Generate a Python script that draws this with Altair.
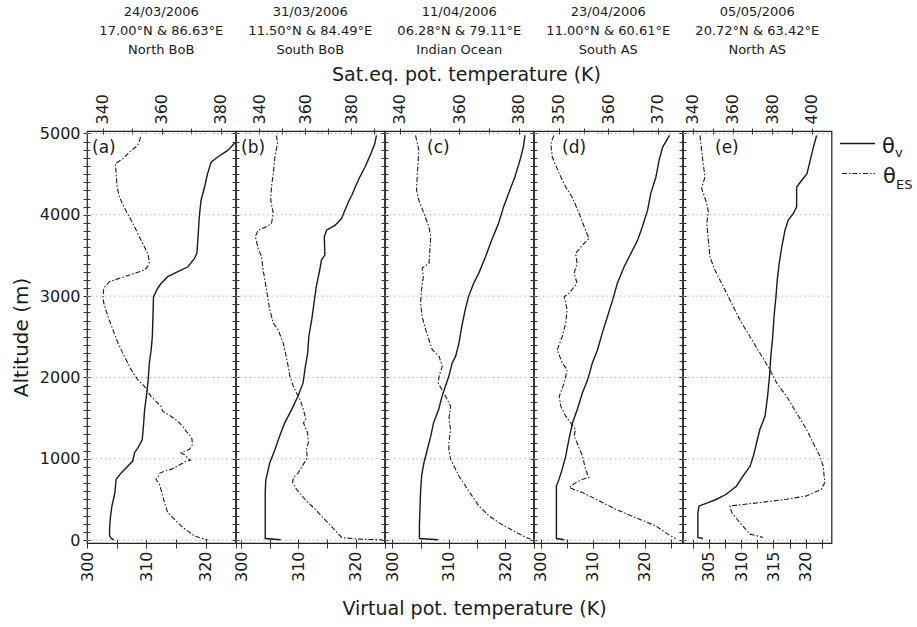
import altair as alt
import pandas as pd

FONT = "DejaVu Sans"
INK = "#1a1a1a"

W = 148.5
H = 412
ALT_DOMAIN = [-35, 5030]
ALT_TICKS = list(range(0, 5001, 100))
GRID_ALT = [0, 1000, 2000, 3000, 4000, 5000]

# ---- (a) North BoB ----
A_TV_ALT = [4893, 4792, 4710, 4648, 4506, 4342, 4179, 3974, 3729, 3526, 3464, 3361, 3300, 3239,
            3158, 3097, 2994, 2749, 2504, 2341, 2178, 1973, 1768, 1605, 1401, 1238, 1136, 1075,
            972, 911, 830, 748, 585, 420, 257, 135, 53, 21, 4]
A_TV = [325.0, 323.7, 322.0, 320.9, 320.3, 319.8, 319.2, 318.9, 318.7, 318.5, 318.1, 317.0, 315.3,
        313.6, 312.5, 311.9, 311.2, 311.1, 311.0, 310.8, 310.5, 310.3, 310.0, 309.7, 309.5, 309.3,
        308.6, 308.0, 307.7, 306.9, 305.8, 304.9, 304.7, 304.2, 303.9, 303.8, 303.8, 304.1, 304.5]
A_ES_ALT = [4955, 4853, 4771, 4690, 4629, 4506, 4342, 4220, 4097, 3974, 3811, 3648, 3526, 3423,
            3361, 3321, 3280, 3239, 3178, 3097, 2994, 2912, 2749, 2586, 2423, 2259, 2096, 1973,
            1891, 1768, 1646, 1585, 1523, 1462, 1401, 1339, 1299, 1246, 1176, 1115, 1094, 1075,
            1054, 1013, 984, 972, 911, 870, 849, 821, 768, 748, 686, 625, 543, 462, 339, 278,
            217, 156, 114, 53, 33, 12, 4]
A_ES = [352.8, 351.8, 349.0, 346.8, 344.2, 344.5, 344.8, 345.6, 347.1, 349.0, 351.3, 353.5, 355.2,
        355.8, 355.2, 354.1, 350.7, 347.3, 342.2, 340.3, 340.0, 340.3, 341.7, 343.4, 345.1, 347.3,
        349.6, 351.8, 354.1, 356.3, 359.7, 360.3, 363.1, 365.4, 367.1, 368.2, 369.3, 370.2, 370.4,
        369.3, 367.6, 366.5, 367.6, 368.7, 369.7, 368.2, 365.4, 363.1, 360.9, 359.2, 358.6, 358.0,
        359.2, 359.7, 360.3, 360.9, 362.0, 363.7, 365.4, 367.1, 368.7, 371.0, 372.7, 374.9, 375.5]

# ---- (b) South BoB ----
B_TV_ALT = [4975, 4873, 4730, 4587, 4464, 4342, 4240, 4158, 4056, 3954, 3872, 3811, 3729, 3505,
            3444, 3321, 3117, 2912, 2708, 2504, 2300, 2136, 1933, 1768, 1605, 1442, 1278, 1115,
            952, 830, 740, 600, 300, 20, 5]
B_TV = [323.6, 323.3, 322.5, 321.6, 320.7, 319.9, 319.3, 318.7, 318.1, 317.5, 316.4, 314.9, 314.5,
        314.6, 314.0, 313.7, 313.1, 312.7, 312.3, 311.8, 311.6, 311.2, 310.8, 309.9, 308.8, 307.6,
        306.7, 305.9, 305.0, 304.6, 304.3, 304.2, 304.2, 304.2, 306.9]
B_ES_ALT = [4975, 4873, 4710, 4506, 4342, 4179, 4016, 3893, 3852, 3811, 3730, 3587, 3484, 3321,
            3158, 2994, 2831, 2668, 2586, 2422, 2300, 2177, 2014, 1891, 1810, 1728, 1605, 1524,
            1483, 1442, 1320, 1197, 1115, 1013, 935, 830, 768, 707, 625, 500, 380, 250, 120, 30,
            10, 5]
B_ES = [347.6, 348.0, 346.9, 346.2, 345.4, 345.1, 346.2, 345.4, 343.2, 339.6, 338.4, 339.6, 341.1,
        341.8, 342.8, 343.7, 344.7, 346.2, 348.3, 350.5, 351.5, 352.4, 353.4, 354.9, 356.3, 357.8,
        359.3, 360.0, 360.3, 359.3, 361.1, 361.4, 360.6, 361.0, 359.3, 357.1, 354.9, 354.6, 356.3,
        360.0, 364.4, 368.7, 373.1, 376.0, 385.0, 393.5]

# ---- (c) Indian Ocean ----
C_TV_ALT = [4975, 4832, 4669, 4465, 4301, 4097, 3893, 3689, 3484, 3280, 3158, 2994, 2831, 2627,
            2423, 2259, 2178, 2014, 1891, 1768, 1605, 1442, 1278, 1115, 952, 800, 600, 400, 200,
            20, 5]
C_TV = [323.5, 323.2, 322.6, 321.7, 320.8, 319.7, 318.8, 317.6, 316.5, 315.3, 314.4, 313.5, 312.9,
        312.3, 311.8, 311.2, 310.6, 310.0, 309.4, 308.8, 308.2, 307.3, 306.8, 306.2, 305.6, 305.2,
        305.0, 304.9, 304.8, 304.8, 308.1]
C_ES_ALT = [4975, 4792, 4506, 4301, 4179, 4016, 3852, 3730, 3566, 3403, 3342, 3240, 3076, 2913,
            2749, 2586, 2464, 2341, 2259, 2137, 2014, 1932, 1769, 1647, 1483, 1361, 1197, 1116,
            993, 870, 789, 666, 544, 421, 300, 200, 100, 40, 15]
C_ES = [345.3, 346.4, 345.9, 345.6, 346.4, 348.1, 349.8, 350.4, 350.1, 349.8, 347.5, 347.9, 347.3,
        347.0, 347.5, 348.7, 349.8, 350.9, 353.2, 354.3, 353.2, 352.9, 355.4, 357.1, 356.5, 357.1,
        356.5, 356.5, 357.1, 358.8, 359.9, 362.1, 364.3, 366.6, 370.0, 374.0, 379.0, 382.0, 384.0]

# ---- (d) South AS ----
D_TV_ALT = [4975, 4832, 4669, 4465, 4261, 4057, 3852, 3689, 3526, 3362, 3158, 2954, 2749, 2545,
            2341, 2178, 1974, 1811, 1606, 1443, 1239, 1035, 870, 747, 666, 300, 20, 5]
D_TV = [324.7, 323.4, 322.7, 322.1, 321.1, 320.5, 319.5, 318.6, 317.3, 316.0, 314.7, 313.8, 312.8,
        311.8, 310.9, 309.9, 309.0, 308.0, 307.0, 306.1, 305.4, 304.8, 304.1, 303.5, 303.0, 303.0,
        303.0, 304.5]
D_ES_ALT = [4975, 4873, 4710, 4506, 4342, 4220, 3975, 3811, 3709, 3628, 3526, 3403, 3281, 3158,
            3036, 2995, 2831, 2668, 2504, 2341, 2178, 2096, 1932, 1769, 1647, 1524, 1443, 1361,
            1279, 1197, 1034, 870, 768, 748, 707, 646, 585, 503, 380, 278, 176, 74, 20]
D_ES = [349.0, 348.4, 348.7, 350.1, 351.4, 352.7, 354.4, 355.4, 356.1, 354.8, 353.4, 353.7, 353.1,
        353.7, 352.1, 351.1, 351.7, 351.4, 350.7, 349.7, 350.7, 351.7, 351.1, 350.1, 350.4, 351.4,
        352.4, 353.4, 353.1, 353.7, 354.8, 355.4, 356.1, 354.8, 353.4, 352.1, 354.8, 357.5, 361.5,
        365.5, 369.6, 372.0, 373.6]

# ---- (e) North AS ----
E_TV_ALT = [4975, 4832, 4669, 4506, 4424, 4342, 4097, 4016, 3934, 3811, 3607, 3403, 3199, 2994,
            2749, 2504, 2259, 2014, 1768, 1523, 1360, 1197, 1034, 911, 789, 666, 564, 503, 462,
            421, 339, 33, 21]
E_TV = [321.7, 321.2, 320.7, 320.2, 319.4, 318.6, 318.6, 318.1, 317.3, 316.8, 316.3, 315.9, 315.6,
        315.4, 315.1, 314.9, 314.6, 314.4, 314.1, 313.7, 312.9, 312.4, 311.9, 311.4, 310.3, 309.3,
        307.7, 306.2, 304.9, 303.5, 303.3, 303.3, 304.1]
E_ES_ALT = [4975, 4792, 4629, 4465, 4322, 4138, 4036, 3893, 3689, 3484, 3321, 3158, 2954, 2709,
            2504, 2300, 2096, 1932, 1769, 1565, 1361, 1197, 1034, 912, 707, 625, 544, 503, 462,
            421, 340, 217, 74, 33]
E_ES = [343.6, 344.4, 345.2, 346.1, 344.4, 347.0, 347.8, 347.0, 347.8, 348.6, 351.1, 354.5, 358.7,
        363.7, 368.8, 373.8, 378.9, 382.3, 387.3, 392.3, 397.4, 400.7, 404.1, 405.8, 406.6, 404.9,
        397.4, 387.3, 373.8, 358.7, 359.6, 363.7, 368.8, 375.5]

HEADERS = [
    ["24/03/2006", "17.00°N & 86.63°E", "North BoB"],
    ["31/03/2006", "11.50°N & 84.49°E", "South BoB"],
    ["11/04/2006", "06.28°N & 79.11°E", "Indian Ocean"],
    ["23/04/2006", "11.00°N & 60.61°E", "South AS"],
    ["05/05/2006", "20.72°N & 63.42°E", "North AS"],
]
TAGS = ["(a)", "(b)", "(c)", "(d)", "(e)"]
TAG_X = [5, 5, 42, 28, 32]

BOTTOM_DOMAINS = [[300, 325], [299.1, 325], [298.7, 325], [298.7, 327.2], [301, 324]]
BOTTOM_TICKS = [
    [300, 305, 310, 315, 320, 325],
    [300, 305, 310, 315, 320, 325],
    [300, 305, 310, 315, 320, 325],
    [300, 305, 310, 315, 320, 325],
    [302.5, 305, 307.5, 310, 312.5, 315, 317.5, 320, 322.5],
]
BOTTOM_LABELS = [[300, 310, 320], [300, 310, 320], [300, 310, 320], [300, 310, 320],
                 [305, 310, 315, 320]]
TOP_DOMAINS = [[334.6, 385], [330, 394.5], [335, 385], [345, 375], [335, 410]]
TOP_TICKS = [
    [340, 350, 360, 370, 380],
    [340, 350, 360, 370, 380, 390],
    [340, 350, 360, 370, 380],
    [350, 355, 360, 365, 370],
    [340, 350, 360, 370, 380, 390, 400],
]
TOP_LABELS = [[340, 360, 380], [340, 360, 380], [340, 360, 380], [350, 360, 370],
              [340, 360, 380, 400]]

PROFILES = [
    (A_TV_ALT, A_TV, A_ES_ALT, A_ES),
    (B_TV_ALT, B_TV, B_ES_ALT, B_ES),
    (C_TV_ALT, C_TV, C_ES_ALT, C_ES),
    (D_TV_ALT, D_TV, D_ES_ALT, D_ES),
    (E_TV_ALT, E_TV, E_ES_ALT, E_ES),
]

DASHDOT = [5, 2, 1.5, 2]


def only(vals):
    return "indexof([%s], datum.value) >= 0 ? datum.label : ''" % ",".join(str(v) for v in vals)


def profile_frame(alts, vals):
    return pd.DataFrame({"alt": alts, "val": vals, "seq": list(range(len(alts)))})


def one_row():
    return pd.DataFrame({"k": [0]})


def build_panel(i):
    tv_alt, tv, es_alt, es = PROFILES[i]
    tv_df = profile_frame(tv_alt, tv)
    es_df = profile_frame(es_alt, es)

    ysc = alt.Scale(domain=ALT_DOMAIN, nice=False, zero=False)
    bsc = alt.Scale(domain=BOTTOM_DOMAINS[i], nice=False, zero=False)
    tsc = alt.Scale(domain=TOP_DOMAINS[i], nice=False, zero=False)

    left_kw = dict(orient="left", values=ALT_TICKS, tickSize=4, domain=False, grid=False,
                   labelOverlap=False, labelPadding=3, format="d")
    if i == 0:
        left_kw.update(labelExpr="datum.value % 1000 == 0 ? datum.label : ''",
                       title="Altitude (m)", titleFontSize=20, titleFontWeight="normal",
                       titlePadding=8, labelFontSize=16)
    else:
        left_kw.update(labels=False, title="")

    bottom_kw = dict(orient="bottom", values=BOTTOM_TICKS[i], labelExpr=only(BOTTOM_LABELS[i]),
                     labelAngle=-90, tickSize=5, labelPadding=3, domain=False, grid=False,
                     labelOverlap=False, labelFlush=False, labelFontSize=16, title="")
    top_kw = dict(orient="top", values=TOP_TICKS[i], labelExpr=only(TOP_LABELS[i]),
                  labelAngle=-90, tickSize=3, labelPadding=4, domain=False, grid=False,
                  labelOverlap=False, labelFlush=False, labelFontSize=16, title="")
    if i == 2:
        bottom_kw.update(title="Virtual pot. temperature (K)", titleFontSize=19,
                         titleFontWeight="normal", titleX=89, titleY=71,
                         titleBaseline="alphabetic", titleAlign="center")
        top_kw.update(title="Sat.eq. pot. temperature (K)", titleFontSize=19,
                      titleFontWeight="normal", titleX=81, titleY=-51,
                      titleBaseline="alphabetic", titleAlign="center")

    tv_line = alt.Chart(tv_df).mark_line(color=INK, strokeWidth=1.4, clip=True).encode(
        x=alt.X("val:Q", scale=bsc, axis=alt.Axis(**bottom_kw)),
        y=alt.Y("alt:Q", scale=ysc, axis=alt.Axis(**left_kw)),
        order="seq:Q",
    )
    # invisible copy carrying the inward tick marks on the bottom and left edges
    tv_ghost = alt.Chart(tv_df).mark_line(strokeOpacity=0).encode(
        x=alt.X("val:Q", scale=bsc,
                axis=alt.Axis(orient="top", offset=-H, values=BOTTOM_TICKS[i], labels=False,
                              tickSize=4, domain=False, grid=False, title="")),
        y=alt.Y("alt:Q", scale=ysc,
                axis=alt.Axis(orient="right", offset=-W, values=ALT_TICKS, labels=False,
                              tickSize=3, domain=False, grid=False, title="")),
        order="seq:Q",
    )
    es_line = alt.Chart(es_df).mark_line(color=INK, strokeWidth=1.1, strokeDash=DASHDOT,
                                         clip=True).encode(
        x=alt.X("val:Q", scale=tsc, axis=alt.Axis(**top_kw)),
        y=alt.Y("alt:Q", scale=ysc, axis=None),
        order="seq:Q",
    )
    es_ghost = alt.Chart(es_df).mark_line(strokeOpacity=0).encode(
        x=alt.X("val:Q", scale=tsc,
                axis=alt.Axis(orient="bottom", offset=-H, values=TOP_TICKS[i], labels=False,
                              tickSize=3, domain=False, grid=False, title="")),
        y=alt.Y("alt:Q", scale=ysc, axis=None),
        order="seq:Q",
    )
    grid = alt.Chart(pd.DataFrame({"g": GRID_ALT})).mark_rule(
        color="#b8b8b8", strokeWidth=1, strokeDash=[1.5, 3]).encode(
        y=alt.Y("g:Q", scale=ysc, axis=None),
        x=alt.value(0), x2=alt.value(W),
    )
    header = alt.Chart(one_row()).mark_text(
        font=FONT, fontSize=13, color=INK, align="center", baseline="alphabetic",
        lineHeight=19).encode(
        x=alt.value(W / 2), y=alt.value(-115), text=alt.value(HEADERS[i]))
    tag = alt.Chart(one_row()).mark_text(
        font=FONT, fontSize=17, color=INK, align="left", baseline="alphabetic").encode(
        x=alt.value(TAG_X[i]), y=alt.value(22), text=alt.value(TAGS[i]))

    layers = [grid, tv_ghost, es_ghost, tv_line, es_line, header, tag]

    if i == 4:
        leg_solid = alt.Chart(one_row()).mark_rule(color=INK, strokeWidth=1.4).encode(
            x=alt.value(157), x2=alt.value(192), y=alt.value(12.5))
        leg_dash = alt.Chart(one_row()).mark_rule(color=INK, strokeWidth=1.1,
                                                  strokeDash=DASHDOT).encode(
            x=alt.value(159), x2=alt.value(192), y=alt.value(42.5))
        theta1 = alt.Chart(one_row()).mark_text(font=FONT, fontSize=21, color=INK, align="left",
                                                baseline="alphabetic").encode(
            x=alt.value(199), y=alt.value(22), text=alt.value("θ"))
        sub1 = alt.Chart(one_row()).mark_text(font=FONT, fontSize=13, color=INK, align="left",
                                              baseline="alphabetic").encode(
            x=alt.value(212), y=alt.value(26), text=alt.value("v"))
        theta2 = alt.Chart(one_row()).mark_text(font=FONT, fontSize=21, color=INK, align="left",
                                                baseline="alphabetic").encode(
            x=alt.value(200), y=alt.value(52), text=alt.value("θ"))
        sub2 = alt.Chart(one_row()).mark_text(font=FONT, fontSize=13, color=INK, align="left",
                                              baseline="alphabetic").encode(
            x=alt.value(213), y=alt.value(58), text=alt.value("ES"))
        layers += [leg_solid, leg_dash, theta1, sub1, theta2, sub2]

    return alt.layer(*layers).resolve_scale(x="independent", y="independent").properties(
        width=W, height=H)


chart = alt.hconcat(*[build_panel(i) for i in range(5)], spacing=0, bounds="flush").properties(
    padding={"left": 10, "top": 5, "right": 0, "bottom": 0}
).configure(
    font=FONT,
).configure_view(
    stroke="#222", strokeWidth=1.2,
).configure_axis(
    labelFont=FONT, titleFont=FONT, labelColor=INK, titleColor=INK, tickColor="#333",
    tickWidth=1, labelFontSize=16,
)

chart.save("out.html", embed_options={"renderer": "svg", "actions": False})
